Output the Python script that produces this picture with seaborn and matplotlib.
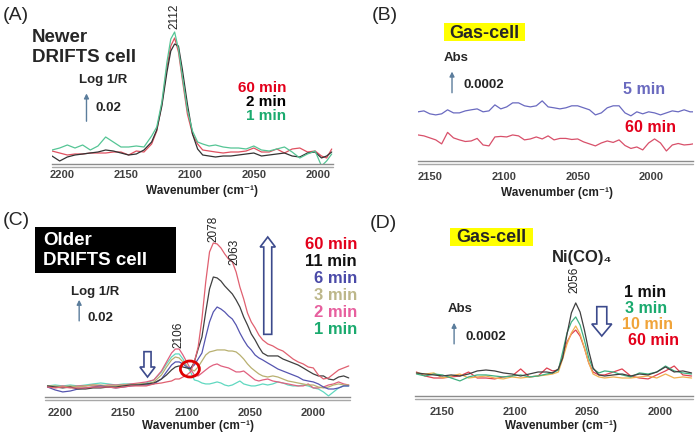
import matplotlib
matplotlib.use('Agg')
import matplotlib.pyplot as plt
from matplotlib.patches import Rectangle, Ellipse, FancyArrow
from matplotlib.transforms import ScaledTranslation
import seaborn as sns
import pandas as pd

# (A) Newer DRIFTS cell - Log 1/R (x 1e-3)
wn_a = [2208, 2202, 2196, 2190, 2184, 2178, 2172, 2166, 2160, 2154, 2148, 2142, 2136, 2130,
        2126, 2122, 2118, 2115, 2112, 2109, 2106, 2102, 2098, 2094,
        2090, 2085, 2080, 2074, 2068, 2062, 2056, 2050, 2044, 2038, 2032, 2026, 2020, 2014, 2008, 2002,
        1997, 1993, 1989]
a_60min = [7.8, 6.6, 5.4, 6.0, 6.0, 6.6, 6.6, 6.6, 7.2, 7.2, 5.4, 7.8, 7.2, 12.0,
           19.8, 36.0, 58.2, 70.8, 75.6, 67.2, 51.0, 30.0, 18.0, 12.0,
           8.4, 7.8, 7.2, 6.6, 7.2, 7.2, 7.8, 9.6, 7.2, 7.2, 9.0, 6.6, 9.0, 9.6, 7.2, 7.8,
           4.8, 3.6, 9.0]
a_2min = [4.8, 1.8, 4.2, 5.4, 6.0, 6.6, 7.2, 8.4, 7.8, 6.6, 5.4, 6.0, 8.4, 13.2,
          20.4, 34.8, 55.2, 67.8, 72.0, 70.8, 57.0, 36.0, 18.0, 9.0,
          5.4, 4.8, 4.2, 4.8, 4.8, 5.4, 6.0, 6.6, 4.8, 5.4, 6.0, 6.6, 4.8, 4.2, 6.6, 7.2,
          3.6, 4.8, 7.2]
a_1min = [8.4, 9.6, 11.4, 9.6, 11.4, 8.4, 10.8, 16.2, 13.2, 10.2, 10.2, 10.8, 10.2, 16.8,
          22.2, 37.2, 61.2, 75.0, 79.2, 69.0, 52.8, 32.4, 19.8, 13.2,
          12.0, 10.8, 11.4, 10.2, 9.6, 9.6, 9.0, 10.8, 8.4, 7.8, 9.0, 10.2, 7.2, 3.6, 6.0, 7.8,
          -1.2, 1.8, 6.0]

# (B) Gas-cell - Abs (x 1e-5)
wn_b = [2158, 2154, 2150, 2146, 2142, 2138, 2134, 2130, 2126, 2122,
        2118, 2114, 2110, 2106, 2102, 2098, 2094, 2090, 2086, 2082,
        2078, 2074, 2070, 2066, 2062, 2058, 2054, 2050, 2046, 2042,
        2038, 2034, 2030, 2026, 2022, 2018, 2014, 2010, 2006, 2002,
        1998, 1994, 1990, 1986, 1982, 1978, 1974, 1972]
b_5min = [36.8, 37.5, 35.3, 34.5, 35.3, 38.3, 36.0, 36.0, 37.5, 38.3,
          39.0, 36.8, 37.5, 42.0, 39.0, 40.5, 43.5, 43.5, 41.3, 40.5,
          41.3, 45.0, 40.5, 39.8, 39.0, 39.8, 41.3, 41.3, 39.8, 38.3,
          34.5, 36.0, 39.8, 41.3, 41.3, 36.0, 33.8, 36.8, 35.3, 36.8,
          36.0, 34.5, 36.0, 37.5, 36.8, 38.3, 36.8, 36.8]
b_60min = [19.5, 18.8, 17.3, 15.8, 12.8, 21.4, 17.3, 15.8, 14.6, 15.0,
           16.9, 12.0, 11.3, 18.0, 18.4, 18.0, 19.5, 18.8, 15.8, 16.5,
           18.0, 16.5, 18.8, 15.8, 16.9, 16.9, 16.1, 16.5, 14.3, 12.8,
           11.3, 13.5, 15.0, 13.9, 15.8, 11.6, 9.4, 10.5, 8.3, 13.5,
           16.5, 13.5, 7.5, 12.0, 13.1, 12.0, 12.4, 12.8]

# (C) Older DRIFTS cell - Log 1/R (x 1e-3)
wn_c = [2210, 2204, 2198, 2192, 2186, 2180, 2174, 2168, 2162, 2156, 2150, 2144, 2138, 2132, 2126, 2120,
        2116, 2112, 2109, 2106, 2103, 2100, 2097, 2094, 2091, 2088,
        2085, 2082, 2079, 2076, 2073, 2070, 2067, 2064, 2061, 2058,
        2055, 2052, 2049, 2046, 2043, 2040,
        2036, 2032, 2028, 2024, 2020, 2016, 2012, 2008, 2004, 2000,
        1996, 1992, 1988, 1984, 1980, 1976, 1972]
c_60min = [7.5, 6.8, 7.5, 6.8, 6.8, 6.8, 7.5, 7.5, 7.5, 6.8, 7.5, 8.3, 8.3, 8.3, 9.8, 10.5,
           11.3, 12.0, 13.5, 13.5, 15.0, 16.5, 18.8, 26.3, 37.5, 58.5,
           86.3, 108.8, 115.5, 114.8, 111.8, 107.3, 103.5, 101.3, 93.8, 82.5,
           73.5, 63.0, 56.3, 51.8, 46.5, 42.8,
           39.8, 38.3, 36.0, 34.5, 31.5, 28.5, 26.3, 24.8, 22.5, 21.8,
           16.5, 13.5, 14.3, 17.3, 20.3, 21.8, 23.3]
c_11min = [8.3, 7.5, 6.8, 7.5, 6.0, 6.0, 6.8, 6.8, 7.5, 7.5, 8.3, 9.0, 9.0, 9.8, 10.5, 13.5,
           16.5, 20.3, 22.5, 23.3, 22.5, 21.8, 21.0, 26.3, 36.0, 45.0,
           63.8, 81.0, 90.0, 89.3, 87.0, 83.3, 80.3, 77.3, 72.8, 67.5,
           60.0, 54.0, 47.3, 42.8, 37.5, 33.0,
           30.8, 30.8, 30.8, 28.5, 27.0, 25.5, 24.0, 21.8, 19.5, 17.3,
           15.8, 15.8, 13.5, 12.8, 15.0, 15.8, 14.3]
c_6min = [7.5, 5.3, 3.8, 4.5, 6.0, 6.8, 7.5, 8.3, 7.5, 6.8, 7.5, 8.3, 9.0, 9.0, 9.8, 13.5,
          18.8, 24.0, 26.3, 26.3, 24.8, 22.5, 21.8, 24.0, 28.5, 33.0,
          45.0, 56.3, 63.8, 67.5, 66.0, 63.8, 60.8, 58.5, 54.0, 48.0,
          42.8, 38.3, 35.3, 31.5, 29.3, 27.8,
          25.5, 23.3, 21.0, 19.5, 18.0, 16.5, 15.0, 12.8, 12.0, 11.3,
          9.8, 7.5, 6.0, 6.0, 6.8, 8.3, 8.3]
c_3min = [8.3, 8.3, 7.5, 8.3, 7.5, 8.3, 9.0, 9.0, 8.3, 8.3, 9.0, 9.0, 9.8, 9.8, 11.3, 16.5,
          22.5, 27.8, 30.0, 29.3, 26.3, 23.3, 21.0, 19.5, 22.5, 27.0,
          31.5, 33.8, 34.5, 35.3, 35.3, 35.3, 34.5, 34.5, 33.8, 31.5,
          28.5, 24.8, 21.8, 19.5, 17.3, 15.8,
          15.0, 15.8, 15.0, 13.5, 12.0, 11.3, 10.5, 9.8, 9.0, 9.0,
          7.5, 6.8, 7.5, 9.0, 9.8, 9.0, 9.0]
c_2min = [7.5, 7.5, 8.3, 7.5, 8.3, 8.3, 9.0, 8.3, 9.0, 9.0, 9.0, 9.8, 10.5, 11.3, 12.8, 19.5,
          26.3, 33.0, 36.0, 36.0, 31.5, 26.3, 21.0, 16.5, 15.8, 18.0,
          20.3, 22.5, 24.0, 24.8, 23.3, 22.5, 21.8, 20.3, 18.8, 18.8,
          19.5, 17.3, 15.0, 12.8, 12.0, 12.8,
          13.5, 12.0, 11.3, 10.5, 9.8, 9.0, 8.3, 8.3, 9.8, 6.8,
          6.8, 7.5, 9.0, 9.8, 11.3, 9.8, 9.0]
c_1min = [8.3, 9.0, 8.3, 9.0, 8.3, 9.0, 9.8, 10.5, 9.8, 9.0, 9.8, 9.8, 9.8, 10.5, 12.8, 18.8,
          24.8, 30.0, 32.3, 32.3, 28.5, 23.3, 18.8, 12.8, 12.0, 10.5,
          9.8, 9.8, 10.5, 11.3, 10.5, 9.0, 8.3, 9.0, 10.5, 12.0,
          9.8, 9.0, 8.3, 8.3, 9.0, 9.8,
          9.0, 9.8, 11.3, 10.5, 9.0, 8.3, 8.3, 9.0, 8.3, 6.8,
          6.0, 3.8, 0.8, 3.8, 6.8, 8.3, 8.3]

# (D) Gas-cell Ni(CO)4 - Abs (x 1e-5)
wn_d = [2168, 2162, 2156, 2150, 2144, 2138, 2132, 2126, 2120, 2114,
        2108, 2102, 2096, 2090, 2084, 2078, 2074, 2070, 2067, 2064,
        2061, 2058, 2055, 2052, 2049, 2046, 2042, 2038, 2032, 2026,
        2020, 2014, 2008, 2002, 1996, 1990, 1984, 1978]
d_1min = [17.3, 16.5, 15.8, 15.0, 15.8, 15.0, 16.5, 18.8, 19.5, 18.8,
          17.3, 16.5, 15.0, 16.5, 18.0, 18.0, 17.3, 20.3, 28.5, 46.5,
          62.3, 69.8, 63.0, 49.5, 33.8, 21.0, 15.8, 15.0, 15.8, 16.5,
          15.0, 16.5, 15.8, 18.0, 21.8, 18.0, 18.8, 17.3]
d_3min = [16.5, 15.0, 16.5, 15.8, 13.5, 11.3, 14.3, 15.8, 15.8, 15.0,
          14.3, 15.0, 15.8, 14.3, 15.0, 16.5, 17.3, 19.5, 33.0, 47.3,
          55.5, 59.3, 53.3, 42.0, 28.5, 20.3, 17.3, 18.8, 18.0, 15.8,
          14.3, 17.3, 16.5, 18.0, 22.5, 18.8, 17.3, 16.5]
d_10min = [17.3, 16.5, 17.3, 13.5, 15.0, 16.5, 13.5, 14.3, 15.0, 13.5,
           12.8, 14.3, 13.5, 14.3, 15.0, 15.8, 16.5, 18.0, 27.8, 39.0,
           47.3, 52.5, 46.5, 36.0, 24.8, 16.5, 14.3, 13.5, 14.3, 13.5,
           13.5, 14.3, 15.0, 13.5, 16.5, 13.5, 14.3, 13.5]
d_60min = [18.0, 15.0, 13.5, 13.5, 14.3, 15.0, 18.0, 13.5, 13.5, 12.8,
           14.3, 15.0, 20.3, 14.3, 15.0, 21.0, 18.8, 19.5, 30.0, 40.5,
           46.5, 49.5, 45.0, 36.0, 24.8, 18.0, 15.8, 15.8, 18.0, 20.3,
           15.0, 13.5, 12.8, 15.8, 18.8, 22.5, 15.8, 15.0]

W, H = 696, 435
RED = '#e3001b'
GREEN = '#1aaa6e'
ARROW = '#5b7d9c'
HOLLOW = '#3c4a8c'

sns.set_style('white')
plt.rcParams['font.family'] = ['Liberation Sans', 'DejaVu Sans']

fig = plt.figure(figsize=(W / 100, H / 100), dpi=100)


def frame(l, t, r, b):
    # axes rectangle given in pixels of the 696x435 figure
    return [l / W, 1 - b / H, (r - l) / W, (b - t) / H]


def ftext(x, y, s, **kw):
    kw.setdefault('ha', 'left')
    kw.setdefault('va', 'center')
    return fig.text(x / W, 1 - y / H, s, **kw)


def spectra(rect, wn, series, colors, xlim, ylim, ticks, tick_len, label_off, xlabel_at):
    ax = fig.add_axes(frame(*rect))
    df = pd.DataFrame({'wn': wn, **series}).melt(id_vars='wn', var_name='time', value_name='y')
    sns.lineplot(data=df, x='wn', y='y', hue='time', hue_order=list(series),
                 palette=colors, estimator=None, legend=False, lw=0.9, ax=ax)
    ax.set_xlim(*xlim)
    ax.set_ylim(*ylim)
    ax.set_xticks(ticks)
    ax.set_yticks([])
    ax.set_xlabel('')
    ax.set_ylabel('')
    ax.patch.set_alpha(0)
    for s in ['top', 'left', 'right']:
        ax.spines[s].set_visible(False)
    ax.spines['bottom'].set_color('#8c8c8c')
    ax.spines['bottom'].set_linewidth(1.0)
    # the double axis line
    shift = ScaledTranslation(0, -2.5 / 100, fig.dpi_scale_trans)
    ax.plot([0, 1], [0, 0], transform=ax.transAxes + shift, color='#a8a8a8', lw=1.0, clip_on=False)
    ax.tick_params(axis='x', length=tick_len / 1.389, width=0.8, color='#8c8c8c',
                   pad=(label_off - tick_len) / 1.389, labelsize=8, labelcolor='#404040')
    for lab in ax.get_xticklabels():
        lab.set_fontweight('bold')
    ftext(*xlabel_at, 'Wavenumber (cm⁻¹)', ha='center', fontsize=8.5, fontweight='bold', color='#222222')
    return ax


def scale_bar(ax, x, y0, y1):
    ax.annotate('', xy=(x, y1), xytext=(x, y0),
                arrowprops=dict(arrowstyle='-|>', color=ARROW, lw=1.0, mutation_scale=7))


def hollow_arrow(ax, x, y0, y1, shaft, head, head_len):
    ax.add_patch(FancyArrow(x, y0, 0, y1 - y0, width=shaft, head_width=head, head_length=head_len,
                            length_includes_head=True, fc='white', ec=HOLLOW, lw=1.2, zorder=5))


# ---------------- (A)
ax_a = spectra((52, 15, 333, 165), wn_a,
               {'60 min': a_60min, '2 min': a_2min, '1 min': a_1min},
               {'60 min': '#e05060', '2 min': '#333333', '1 min': '#55c595'},
               (2208, 1988), (0, 90), [2200, 2150, 2100, 2050, 2000], 3.5, 5, (202, 191))
scale_bar(ax_a, 2181, 24, 44)
ftext(3, 16, '(A)', fontsize=14)
ftext(32, 37, 'Newer', fontsize=13.5, fontweight='bold')
ftext(32, 58, 'DRIFTS cell', fontsize=13.5, fontweight='bold')
ftext(103, 80, 'Log 1/R', ha='center', fontsize=9.5, fontweight='bold')
ftext(95, 108, '0.02', fontsize=9.5, fontweight='bold')
ftext(174, 29, '2112', ha='center', va='bottom', rotation=90, fontsize=8.5, color='#222222')
ftext(286, 88, '60 min', ha='right', fontsize=11, fontweight='bold', color=RED)
ftext(286, 102, '2 min', ha='right', fontsize=11, fontweight='bold', color='black')
ftext(286, 116, '1 min', ha='right', fontsize=11, fontweight='bold', color=GREEN)

# ---------------- (B)
ax_b = spectra((418, 15, 693, 162), wn_b,
               {'5 min': b_5min, '60 min': b_60min},
               {'5 min': '#6a6ac0', '60 min': '#d8506a'},
               (2158, 1972), (0, 110), [2150, 2100, 2050, 2000], 0, 10, (557, 193))
scale_bar(ax_b, 2135, 49, 69)
ftext(372, 15, '(B)', fontsize=14)
fig.patches.append(Rectangle((444 / W, 1 - 42 / H), 81 / W, 18 / H, transform=fig.transFigure,
                             fc='#ffff00', ec='none'))
ftext(484.5, 33, 'Gas-cell', ha='center', fontsize=13, fontweight='bold')
ftext(456, 58, 'Abs', ha='center', fontsize=9.5, fontweight='bold')
ftext(463, 85, '0.0002', fontsize=9.5, fontweight='bold')
ftext(623, 89, '5 min', fontsize=11.5, fontweight='bold', color='#6a6abf')
ftext(625, 128, '60 min', fontsize=11.5, fontweight='bold', color=RED)

# ---------------- (C)
ax_c = spectra((45, 225, 350, 398), wn_c,
               {'1 min': c_1min, '2 min': c_2min, '3 min': c_3min,
                '6 min': c_6min, '11 min': c_11min, '60 min': c_60min},
               {'1 min': '#60d8c0', '2 min': '#e0607f', '3 min': '#b8b070',
                '6 min': '#5555b0', '11 min': '#404040', '60 min': '#e06070'},
               (2212, 1971), (0, 129.75), [2200, 2150, 2100, 2050, 2000], 3.5, 10, (198, 426))
scale_bar(ax_c, 2185, 55, 75)
hollow_arrow(ax_c, 2036, 47, 120, 6.3, 12, 7.5)
hollow_arrow(ax_c, 2131, 34, 15, 5.6, 12, 7.5)
ax_c.add_patch(Ellipse((2097.5, 21), width=15, height=12, fc='none', ec='#e00000', lw=2, zorder=6))
ftext(3, 221, '(C)', fontsize=14)
fig.patches.append(Rectangle((35 / W, 1 - 274 / H), 141 / W, 46 / H, transform=fig.transFigure,
                             fc='black', ec='none'))
ftext(43, 241, 'Older', fontsize=13.5, fontweight='bold', color='white')
ftext(43, 261, 'DRIFTS cell', fontsize=13.5, fontweight='bold', color='white')
ftext(95, 292, 'Log 1/R', ha='center', fontsize=9.5, fontweight='bold')
ftext(87, 318, '0.02', fontsize=9.5, fontweight='bold')
ftext(178, 348, '2106', ha='center', va='bottom', rotation=90, fontsize=8.5, color='#222222')
ftext(213, 242, '2078', ha='center', va='bottom', rotation=90, fontsize=8.5, color='#222222')
ftext(234, 265, '2063', ha='center', va='bottom', rotation=90, fontsize=8.5, color='#222222')
c_labels = [('60 min', RED), ('11 min', '#111111'), ('6 min', '#4a4aa8'),
            ('3 min', '#bdb78a'), ('2 min', '#e75f9e'), ('1 min', GREEN)]
for i, (lab, col) in enumerate(c_labels):
    ftext(357, 245 + i * 16.8, lab, ha='right', fontsize=12, fontweight='bold', color=col)

# ---------------- (D)
ax_d = spectra((415, 225, 693, 397), wn_d,
               {'60 min': d_60min, '10 min': d_10min, '3 min': d_3min, '1 min': d_1min},
               {'60 min': '#e04050', '10 min': '#f0b050', '3 min': '#40b080', '1 min': '#404040'},
               (2169, 1977), (0, 129), [2150, 2100, 2050, 2000], 0, 10, (561, 426))
scale_bar(ax_d, 2142, 37, 57)
hollow_arrow(ax_d, 2040, 67, 45, 6.9, 13.8, 9)
ftext(370, 224, '(D)', fontsize=14)
fig.patches.append(Rectangle((450 / W, 1 - 247 / H), 83 / W, 18 / H, transform=fig.transFigure,
                             fc='#ffff00', ec='none'))
ftext(491, 238, 'Gas-cell', ha='center', fontsize=13, fontweight='bold')
ftext(582, 258, 'Ni(CO)₄', ha='center', fontsize=12, fontweight='bold')
ftext(574, 293, '2056', ha='center', va='bottom', rotation=90, fontsize=8.5, color='#222222')
ftext(460, 309, 'Abs', ha='center', fontsize=9.5, fontweight='bold')
ftext(465, 337, '0.0002', fontsize=9.5, fontweight='bold')
d_labels = [('1 min', '#111111', 624), ('3 min', GREEN, 625), ('10 min', '#f0a43a', 622), ('60 min', RED, 628)]
for i, (lab, col, x) in enumerate(d_labels):
    ftext(x, 293 + i * 16, lab, fontsize=11.5, fontweight='bold', color=col)

fig.savefig('out.png', dpi=100)
